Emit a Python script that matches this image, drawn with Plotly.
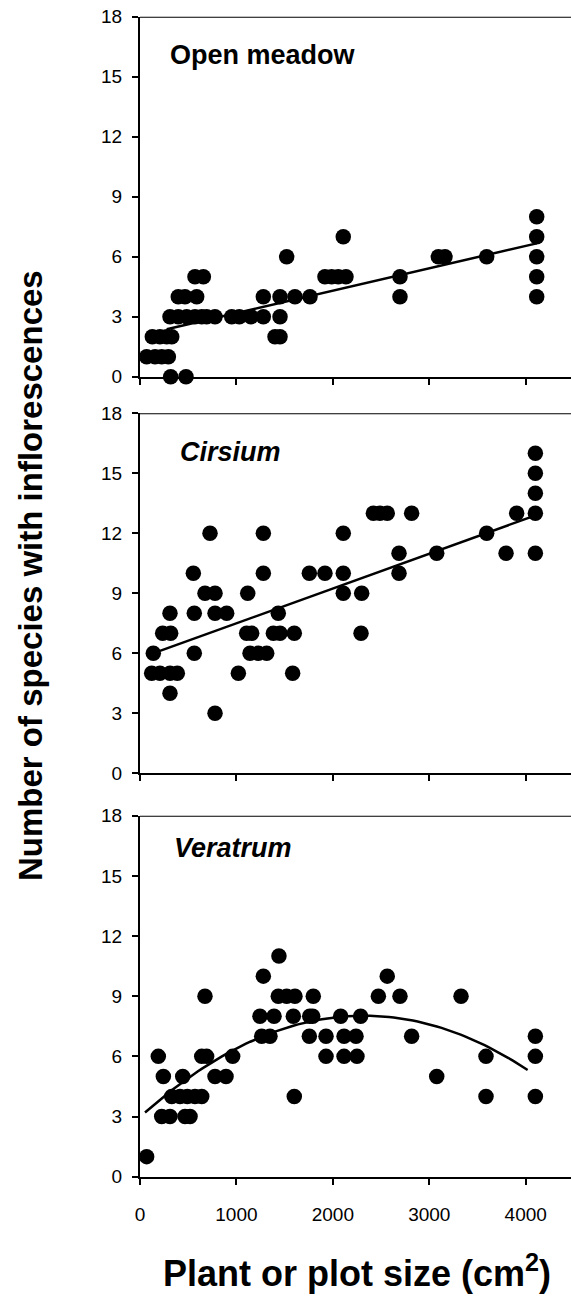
import plotly.graph_objects as go

# ---------------- data ----------------
x_ticks = [0, 1000, 2000, 3000, 4000]
y_ticks = [0, 3, 6, 9, 12, 15, 18]
panel_titles = ["<b>Open meadow</b>", "<b><i>Cirsium</i></b>", "<b><i>Veratrum</i></b>"]

# Open meadow
om_x = [318, 477,
        69, 156, 225, 294,
        128, 207, 277, 329, 1400, 1452,
        311, 397, 484, 570, 640, 691, 778, 951, 1030, 1151, 1279, 1452,
        397, 467, 588, 1279, 1452, 1607, 1763, 2696, 4114,
        570, 657, 1918, 1987, 2056, 2136, 2696, 4114,
        1521, 3094, 3163, 3595, 4114,
        2108, 4114,
        4114]
om_y = [0, 0,
        1, 1, 1, 1,
        2, 2, 2, 2, 2, 2,
        3, 3, 3, 3, 3, 3, 3, 3, 3, 3, 3, 3,
        4, 4, 4, 4, 4, 4, 4, 4, 4,
        5, 5, 5, 5, 5, 5, 5, 5,
        6, 6, 6, 6, 6,
        7, 7,
        8]

# Cirsium
ci_x = [778,
        311,
        121, 207, 311, 387, 1020, 1583,
        138, 563, 1141, 1227, 1314,
        235, 318, 1106, 1158, 1383, 1452, 1600, 2292,
        311, 563, 778, 899, 1434,
        674, 778, 1117, 2108, 2299,
        553, 1279, 1756, 1918, 2108, 2686,
        2686, 3077, 3796, 4100,
        726, 1279, 2108, 3595,
        2420, 2488, 2564, 2817, 3906, 4100,
        4100, 4100, 4100]
ci_y = [3,
        4,
        5, 5, 5, 5, 5, 5,
        6, 6, 6, 6, 6,
        7, 7, 7, 7, 7, 7, 7, 7,
        8, 8, 8, 8, 8,
        9, 9, 9, 9, 9,
        10, 10, 10, 10, 10, 10,
        11, 11, 11, 11,
        12, 12, 12, 12,
        13, 13, 13, 13, 13, 13,
        14, 15, 16]

# Veratrum
ve_x = [69,
        225, 311, 467, 519,
        329, 415, 491, 570, 640, 1600, 3588, 4100,
        242, 443, 778, 892, 3077,
        190, 640, 691, 961, 1929, 2116, 2250, 3588, 4100,
        1262, 1348, 1756, 1929, 2116, 2240, 2817, 4100,
        1244, 1390, 1590, 1760, 1791, 2081, 2288,
        674, 1434, 1521, 1607, 1797, 2472, 2696, 3329,
        1279, 2564,
        1441]
ve_y = [1,
        3, 3, 3, 3,
        4, 4, 4, 4, 4, 4, 4, 4,
        5, 5, 5, 5, 5,
        6, 6, 6, 6, 6, 6, 6, 6, 6,
        7, 7, 7, 7, 7, 7, 7, 7,
        8, 8, 8, 8, 8, 8, 8,
        9, 9, 9, 9, 9, 9, 9, 9,
        10, 10,
        11]

# fitted curves: polynomial coefficients (a, b, c) and x extent
om_fit = [2.06, 0.00112, 0.0]
om_fit_range = [277, 4114]
ci_fit = [5.76, 0.00174, 0.0]
ci_fit_range = [207, 4044]
ve_fit = [2.976, 0.0043566, -9.387e-7]
ve_fit_range = [52, 4020]

# ---------------- figure ----------------
W, H = 571, 1296
FONT = "Arial, 'Liberation Sans', Helvetica, sans-serif"
x_dom = [140 / W, 1.0]
# pixel rows of y=18 and y=0 for each panel
panel_px = [(16.7, 376.7), (413.3, 773.3), (815.7, 1176.7)]
y_doms = [[1 - b / H, 1 - t / H] for (t, b) in panel_px]
x_range = [0, 431 / 0.09643]  # 0 at left axis, ~96.4 px per 1000

datasets = [(om_x, om_y, om_fit, om_fit_range),
            (ci_x, ci_y, ci_fit, ci_fit_range),
            (ve_x, ve_y, ve_fit, ve_fit_range)]
title_pos = [(290, 16.1), (394, 16.07), (332, 16.4)]

fig = go.Figure()
layout = dict(width=W, height=H, margin=dict(l=0, r=0, t=0, b=0, pad=0, autoexpand=False),
              paper_bgcolor="white", plot_bgcolor="white", showlegend=False,
              font=dict(family=FONT, color="black", size=19))

shapes = []
annotations = []
for i, (xs, ys, fit, fr) in enumerate(datasets):
    n = i + 1
    xa = "x" if n == 1 else f"x{n}"
    ya = "y" if n == 1 else f"y{n}"
    fig.add_trace(go.Scatter(x=xs, y=ys, mode="markers", xaxis=xa, yaxis=ya,
                             cliponaxis=False,
                             marker=dict(size=15.5, color="black", line=dict(width=0))))
    steps = 80
    lx = [fr[0] + (fr[1] - fr[0]) * k / steps for k in range(steps + 1)]
    ly = [fit[0] + fit[1] * v + fit[2] * v * v for v in lx]
    fig.add_trace(go.Scatter(x=lx, y=ly, mode="lines", xaxis=xa, yaxis=ya,
                             cliponaxis=False,
                             line=dict(color="black", width=2.5)))
    xkey = "xaxis" if n == 1 else f"xaxis{n}"
    ykey = "yaxis" if n == 1 else f"yaxis{n}"
    layout[xkey] = dict(domain=x_dom, anchor=ya, range=x_range, automargin=False,
                        tickvals=x_ticks, ticks="outside", ticklen=6, tickwidth=2,
                        tickcolor="black", showline=True, linewidth=2, linecolor="black",
                        showgrid=False, zeroline=False,
                        showticklabels=(n == 3), ticklabelstandoff=13,
                        tickfont=dict(size=19, family=FONT, color="black"))
    layout[ykey] = dict(domain=y_doms[i], anchor=xa, range=[0, 18], automargin=False,
                        tickvals=y_ticks, ticks="outside", ticklen=6, tickwidth=2,
                        tickcolor="black", showline=True, linewidth=2, linecolor="black",
                        showgrid=False, zeroline=False, ticklabelstandoff=6,
                        tickfont=dict(size=19, family=FONT, color="black"))
    shapes.append(dict(type="line", xref="paper", yref=ya, x0=x_dom[0], x1=1.0,
                       y0=18, y1=18, line=dict(color="black", width=2)))
    tx, ty = title_pos[i]
    annotations.append(dict(text=panel_titles[i], x=tx, y=ty, xref=xa, yref=ya,
                            xanchor="left", yanchor="middle", showarrow=False,
                            font=dict(size=27, family=FONT, color="black")))

annotations.append(dict(text="<b>Number of species with inflorescences</b>",
                        x=30 / W, y=1 - 576 / H, xref="paper", yref="paper",
                        textangle=-90, xanchor="center", yanchor="middle",
                        showarrow=False, font=dict(size=33, family=FONT, color="black")))
annotations.append(dict(text="<b>Plant or plot size (cm<sup>2</sup>)</b>",
                        x=357 / W, y=1.5 / H, xref="paper", yref="paper",
                        xanchor="center", yanchor="bottom", borderpad=0,
                        showarrow=False, font=dict(size=36, family=FONT, color="black")))

layout["shapes"] = shapes
layout["annotations"] = annotations
fig.update_layout(**layout)
fig.write_html("out.html",
               config={"displayModeBar": False, "staticPlot": True},
               post_script="document.body.style.margin='0px';document.body.style.overflow='hidden';")
